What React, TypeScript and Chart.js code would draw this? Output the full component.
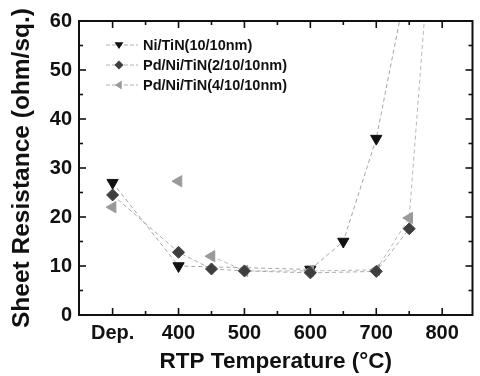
import React, { useEffect, useRef } from "react";
import { Chart, registerables } from "chart.js";

Chart.register(...registerables);

// x = 300 stands for the as-deposited sample ("Dep.")
const xTickValues = [300, 400, 500, 600, 700, 800];
const xTickLabels = ["Dep.", "400", "500", "600", "700", "800"];
const xMinorTicks = [350, 450, 550, 650, 750];
const yMajorTicks = [0, 10, 20, 30, 40, 50, 60];
const yMinorTicks = [5, 15, 25, 35, 45, 55];

const niTemps = [300, 400, 600, 650, 700, 750];
const niValues = [27, 10, 9.3, 15, 36, 70];

const pd2Temps = [300, 400, 450, 500, 600, 700, 750];
const pd2Values = [24.5, 12.8, 9.4, 9.0, 8.6, 8.9, 17.6];

const pd4Temps = [300, 400, 450, 500, 600, 700, 750, 800];
const pd4Values = [22, 27.3, 12, 9.0, 9.0, 9.2, 19.8, 108];

const seriesNames = ["Ni/TiN(10/10nm)", "Pd/Ni/TiN(2/10/10nm)", "Pd/Ni/TiN(4/10/10nm)"];
const seriesColors = ["#111111", "#3e3e3e", "#9a9a9a"];

const FONT = "'Liberation Sans', Arial, sans-serif";

function drawMarker(ctx: CanvasRenderingContext2D, kind: string, x: number, y: number, r: number, color: string) {
  ctx.save();
  ctx.fillStyle = color;
  ctx.beginPath();
  if (kind === "down") {
    ctx.moveTo(x - r, y - r * 0.6);
    ctx.lineTo(x + r, y - r * 0.6);
    ctx.lineTo(x, y + r * 0.9);
  } else if (kind === "diamond") {
    ctx.moveTo(x, y - r);
    ctx.lineTo(x + r, y);
    ctx.lineTo(x, y + r);
    ctx.lineTo(x - r, y);
  } else {
    ctx.moveTo(x + r * 0.6, y - r);
    ctx.lineTo(x + r * 0.6, y + r);
    ctx.lineTo(x - r * 0.9, y);
  }
  ctx.closePath();
  ctx.fill();
  ctx.restore();
}

const framePlugin = {
  id: "frame",
  afterDraw(chart: any) {
    const { ctx, chartArea } = chart;
    const { left, right, top, bottom } = chartArea;
    const xs = chart.scales.x;
    const ys = chart.scales.y;
    ctx.save();
    ctx.strokeStyle = "#111";
    ctx.lineWidth = 2;
    ctx.strokeRect(left, top, right - left, bottom - top);
    ctx.lineWidth = 1.6;
    const tick = (x1: number, y1: number, x2: number, y2: number) => {
      ctx.beginPath();
      ctx.moveTo(x1, y1);
      ctx.lineTo(x2, y2);
      ctx.stroke();
    };
    xTickValues.forEach((v) => {
      const px = xs.getPixelForValue(v);
      tick(px, bottom, px, bottom - 7);
      tick(px, top, px, top + 7);
    });
    xMinorTicks.forEach((v) => {
      const px = xs.getPixelForValue(v);
      tick(px, bottom, px, bottom - 4);
      tick(px, top, px, top + 4);
    });
    yMajorTicks.forEach((v) => {
      const py = ys.getPixelForValue(v);
      tick(left, py, left + 7, py);
      tick(right, py, right - 7, py);
    });
    yMinorTicks.forEach((v) => {
      const py = ys.getPixelForValue(v);
      tick(left, py, left + 4, py);
      tick(right, py, right - 4, py);
    });
    ctx.restore();

    // legend
    const kinds = ["down", "diamond", "left"];
    const rowY = [45, 65, 85];
    ctx.save();
    ctx.font = `bold 14.5px ${FONT}`;
    ctx.textBaseline = "middle";
    seriesNames.forEach((name, i) => {
      const y = rowY[i];
      ctx.strokeStyle = "#b0b0b0";
      ctx.lineWidth = 1;
      ctx.setLineDash([4, 2]);
      ctx.beginPath();
      ctx.moveTo(106, y);
      ctx.lineTo(138, y);
      ctx.stroke();
      ctx.setLineDash([]);
      drawMarker(ctx, kinds[i], 119, y, 4.5, seriesColors[i]);
      ctx.fillStyle = "#111";
      ctx.fillText(name, 143, y + 1);
    });
    ctx.restore();
  },
};

export default function App() {
  const ref = useRef<HTMLCanvasElement | null>(null);

  useEffect(() => {
    if (!ref.current) return;
    const lineCommon = {
      borderWidth: 1,
      borderDash: [4, 3],
      pointRadius: 6.5,
      pointHoverRadius: 6.5,
      showLine: true,
      fill: false,
      tension: 0,
    };
    const chart = new Chart(ref.current, {
      type: "scatter",
      data: {
        datasets: [
          {
            ...lineCommon,
            label: seriesNames[0],
            data: niTemps.map((t, i) => ({ x: t, y: niValues[i] })),
            borderColor: "#a4a4a4",
            backgroundColor: seriesColors[0],
            pointBorderColor: seriesColors[0],
            pointStyle: "triangle",
            rotation: 180,
            order: 3,
          },
          {
            ...lineCommon,
            label: seriesNames[1],
            data: pd2Temps.map((t, i) => ({ x: t, y: pd2Values[i] })),
            borderColor: "#ababab",
            backgroundColor: seriesColors[1],
            pointBorderColor: seriesColors[1],
            pointStyle: "rectRot",
            pointRadius: 6,
            order: 1,
          },
          {
            ...lineCommon,
            label: seriesNames[2],
            data: pd4Temps.map((t, i) => ({ x: t, y: pd4Values[i] })),
            borderColor: "#b8b8b8",
            segment: {
              borderColor: (c: any) => (c.p0DataIndex < 2 ? "rgba(0,0,0,0)" : undefined),
            },
            backgroundColor: seriesColors[2],
            pointBorderColor: seriesColors[2],
            pointStyle: "triangle",
            rotation: -90,
            order: 2,
          },
        ],
      },
      options: {
        animation: false,
        responsive: false,
        maintainAspectRatio: false,
        layout: { padding: { top: 21, right: 7, left: 0, bottom: 0 } },
        plugins: { legend: { display: false }, tooltip: { enabled: false } },
        scales: {
          x: {
            type: "linear",
            min: 249,
            max: 846,
            grid: { display: false, drawTicks: false },
            border: { display: false },
            afterBuildTicks: (scale: any) => {
              scale.ticks = xTickValues.map((v) => ({ value: v }));
            },
            afterFit: (scale: any) => {
              scale.height = 61;
            },
            ticks: {
              autoSkip: false,
              maxRotation: 0,
              padding: 6,
              color: "#111",
              font: { family: FONT, size: 20, weight: "bold" },
              callback: (v: any) => {
                const idx = xTickValues.indexOf(Number(v));
                return idx >= 0 ? xTickLabels[idx] : "";
              },
            },
            title: {
              display: true,
              text: "RTP Temperature (°C)",
              color: "#111",
              font: { family: FONT, size: 22.5, weight: "bold" },
              padding: { top: 0, bottom: 1 },
            },
          },
          y: {
            min: 0,
            max: 60,
            grid: { display: false, drawTicks: false },
            border: { display: false },
            afterBuildTicks: (scale: any) => {
              scale.ticks = yMajorTicks.map((v) => ({ value: v }));
            },
            afterFit: (scale: any) => {
              scale.width = 79;
            },
            ticks: {
              padding: 7,
              color: "#111",
              font: { family: FONT, size: 20, weight: "bold" },
            },
            title: {
              display: true,
              text: "Sheet Resistance (ohm/sq.)",
              color: "#111",
              font: { family: FONT, size: 24.5, weight: "bold" },
              padding: { top: 8, bottom: 0 },
            },
          },
        },
      },
      plugins: [framePlugin],
    } as any);
    return () => chart.destroy();
  }, []);

  return (
    <div style={{ position: "fixed", left: 0, top: 0, width: 480, height: 376, background: "#fff" }}>
      <canvas ref={ref} width={480} height={376} style={{ display: "block", width: 480, height: 376 }} />
    </div>
  );
}
